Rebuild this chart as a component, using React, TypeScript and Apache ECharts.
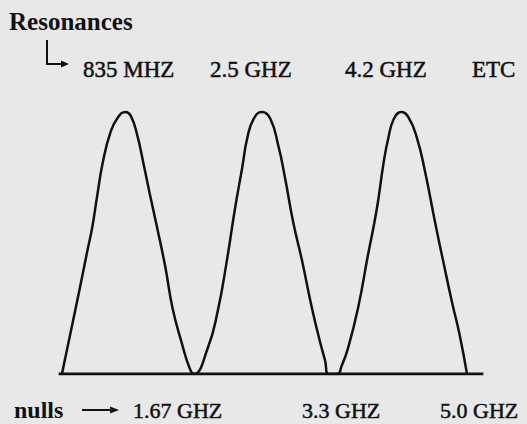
import React, { useEffect, useRef } from "react";
import * as echarts from "echarts";

// Response curve: frequency (GHz) vs. relative amplitude, hand-traced arcs
const freqGHz = [
  0.06, 0.16, 0.28, 0.37, 0.43, 0.49, 0.56, 0.65, 0.74, 0.835, 0.9, 0.98, 1.05, 1.13, 1.22, 1.32, 1.41, 1.52, 1.62, 1.67,
  1.84, 1.96, 2.07, 2.17, 2.26, 2.32, 2.4, 2.5, 2.6, 2.7, 2.78, 2.88, 2.99, 3.11, 3.21, 3.27, 3.31,
  3.42, 3.47, 3.55, 3.67, 3.79, 3.9, 3.98, 4.04, 4.11, 4.2, 4.29, 4.39, 4.49, 4.61, 4.71, 4.82, 4.91, 5.0,
];
const amplitude = [
  0, 0.15, 0.33, 0.47, 0.56, 0.68, 0.81, 0.92, 0.978, 1.0, 0.985, 0.91, 0.81, 0.69, 0.56, 0.41, 0.25, 0.12, 0.02, 0,
  0.1, 0.24, 0.43, 0.63, 0.79, 0.9, 0.975, 1.0, 0.975, 0.87, 0.75, 0.58, 0.43, 0.25, 0.12, 0.05, 0,
  0, 0.03, 0.1, 0.25, 0.45, 0.63, 0.8, 0.9, 0.975, 1.0, 0.978, 0.9, 0.77, 0.58, 0.43, 0.27, 0.15, 0,
];

// Frequency axis line drawn under the curve
const baselineFreq = [0.02, 5.2];
const baselineAmp = [0, 0];

const resonanceTitle = "Resonances";
const resonanceLabels = ["835 MHZ", "2.5 GHZ", "4.2 GHZ", "ETC"];
const nullTitle = "nulls";
const nullLabels = ["1.67 GHZ", "3.3 GHZ", "5.0 GHZ"];

const INK = "#111111";
const SERIF = "'Liberation Serif', 'DejaVu Serif', serif";

export default function App() {
  const ref = useRef<HTMLDivElement>(null);

  useEffect(() => {
    if (!ref.current) return;
    const chart = echarts.init(ref.current, null, { renderer: "svg" });

    const topX = [83, 210, 345, 472];
    const bottomX = [133, 302, 440];
    const labelStyle = (text: string, size: number) => ({
      text,
      font: `${size}px ${SERIF}`,
      fill: INK,
      stroke: INK,
      lineWidth: 0.5,
      verticalAlign: "middle",
    });

    const texts: any[] = [
      {
        type: "text",
        x: 9,
        y: 21,
        style: {
          text: resonanceTitle,
          font: `bold 25px ${SERIF}`,
          fill: INK,
          verticalAlign: "middle",
        },
      },
      {
        type: "text",
        x: 14,
        y: 410,
        style: {
          text: nullTitle,
          font: `bold 24px ${SERIF}`,
          fill: INK,
          verticalAlign: "middle",
        },
      },
      ...resonanceLabels.map((t, i) => ({
        type: "text",
        x: topX[i],
        y: 69,
        style: labelStyle(t, 23),
      })),
      ...nullLabels.map((t, i) => ({
        type: "text",
        x: bottomX[i],
        y: 410,
        style: labelStyle(t, 22),
      })),
      // bent arrow under the title
      {
        type: "polyline",
        shape: { points: [[47, 40], [47, 64], [63, 64]] },
        style: { stroke: INK, lineWidth: 2, fill: "none" },
      },
      {
        type: "polygon",
        shape: { points: [[69, 64], [61, 60.5], [61, 67.5]] },
        style: { fill: INK },
      },
      // arrow after "nulls"
      {
        type: "line",
        shape: { x1: 82, y1: 410, x2: 113, y2: 410 },
        style: { stroke: INK, lineWidth: 2 },
      },
      {
        type: "polygon",
        shape: { points: [[119, 410], [110, 406.5], [110, 413.5]] },
        style: { fill: INK },
      },
    ];

    chart.setOption({
      animation: false,
      backgroundColor: "#e8e8e8",
      grid: { left: 57, top: 85.8, width: 442.8, height: 288.2 },
      xAxis: { type: "value", min: 0, max: 5.4, show: false },
      yAxis: { type: "value", min: 0, max: 1.1, show: false },
      series: [
        {
          type: "line",
          data: baselineFreq.map((f, i) => [f, baselineAmp[i]]),
          showSymbol: false,
          lineStyle: { color: INK, width: 3 },
          silent: true,
        },
        {
          type: "line",
          data: freqGHz.map((f, i) => [f, amplitude[i]]),
          showSymbol: false,
          smooth: 0.5,
          lineStyle: { color: INK, width: 2.5 },
          silent: true,
        },
      ],
      graphic: texts,
    });

    return () => chart.dispose();
  }, []);

  return (
    <div
      ref={ref}
      style={{ position: "fixed", left: 0, top: 0, width: 527, height: 424 }}
    />
  );
}
